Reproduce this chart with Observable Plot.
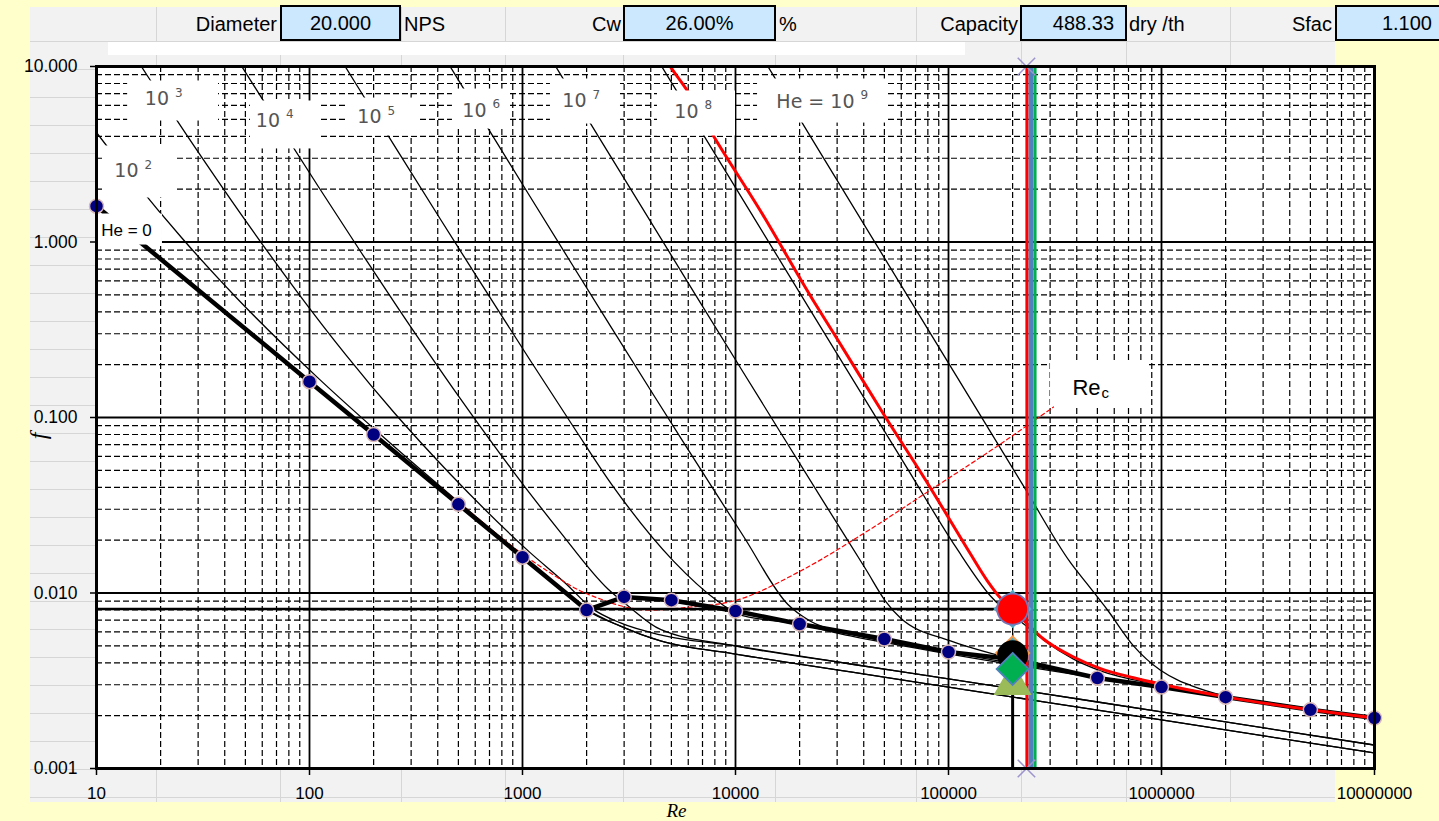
<!DOCTYPE html>
<html>
<head>
<meta charset="utf-8">
<title>Bingham plastic friction factor chart</title>
<script src="https://cdn.jsdelivr.net/npm/d3@7"></script>
<script src="https://cdn.jsdelivr.net/npm/@observablehq/plot@0.6"></script>
<style>
html,body{margin:0;padding:0;background:#FFFFCC;}
#wrap{position:relative;width:1439px;height:821px;overflow:hidden;font-family:"Liberation Sans",Arial,sans-serif;}
#sheet{position:absolute;left:30px;top:7px;width:1305px;height:795px;background:#F2F2F2;}
.hl{position:absolute;left:30px;width:1305px;height:1px;background:#D6D6D6;}
.vl{position:absolute;top:7px;height:795px;width:1px;background:#D6D6D6;}
.lbl{position:absolute;top:7px;height:34px;line-height:34px;font-size:20px;color:#000;white-space:nowrap;box-sizing:border-box;}
.box{position:absolute;top:5px;height:36px;line-height:33px;font-size:20px;color:#000;border:2px solid #000;background:#CBE8FF;box-sizing:border-box;white-space:nowrap;}
#whitebar{position:absolute;left:108px;top:42px;width:857px;height:13px;background:#fff;}
#chart{position:absolute;left:0;top:0;}
</style>
</head>
<body>
<div id="wrap">
  <div id="sheet"></div>
  <div id="grid"></div>
  <div class="lbl" style="left:156px;width:121px;text-align:right">Diameter</div>
  <div class="box" style="left:280px;width:121px;text-align:center">20.000</div>
  <div class="lbl" style="left:404px">NPS</div>
  <div class="lbl" style="left:505px;width:116px;text-align:right">Cw</div>
  <div class="box" style="left:623px;width:153px;text-align:center">26.00%</div>
  <div class="lbl" style="left:779px">%</div>
  <div class="lbl" style="left:916px;width:102px;text-align:right">Capacity</div>
  <div class="box" style="left:1020px;width:107px;text-align:right;padding-right:11px">488.33</div>
  <div class="lbl" style="left:1129px">dry /th</div>
  <div class="lbl" style="left:1230px;width:102px;text-align:right">Sfac</div>
  <div class="box" style="left:1335px;width:110px;text-align:right;padding-right:11px">1.100</div>
  <div id="whitebar"></div>
  <div id="chart"></div>
</div>
<script>
// ---------------- data ----------------
const majorRe = [10, 100, 1000, 10000, 100000, 1000000, 10000000];
const majorF = [0.001, 0.01, 0.1, 1, 10];
const minorMult = [2, 3, 4, 5, 6, 7, 8, 9];

// operating (thick) line with dots
const sysRe = [10, 100, 200, 500, 1000, 2000, 3000, 5000, 10000, 20000, 50000, 100000, 200000, 500000, 1000000, 2000000, 5000000, 10000000];
const sysF = [1.6, 0.16, 0.08, 0.032, 0.016, 0.008, 0.0095, 0.0091, 0.0079, 0.00666, 0.00547, 0.00461, 0.0042, 0.00328, 0.00291, 0.00255, 0.00216, 0.00194];

// Hedstrom-number curves [Re, f]
const he0 = [[10,1.6],[100,0.16],[1000,0.016],[1600,0.01],[2000,0.008],[2884,0.00648],[4446,0.00533],[10000,0.00449],[34670,0.00355],[100000,0.00291],[1000000,0.00189],[10000000,0.001226]];
const he1e2 = [[8.854,5.102],[14.85,2.267],[25.11,1.057],[45.87,0.4753],[108.3,0.1704],[233.3,0.07347],[608.3,0.02702],[1233,0.01315],[1600,0.0101],[1970,0.0082],[2884,0.00648],[4446,0.00533],[10000,0.00449],[34670,0.00355],[100000,0.00291],[1000000,0.00189],[10000000,0.001226]];
const he1e3 = [[10.92,20.98],[17.58,8.63],[26.2,4.164],[50.67,1.2985],[88.54,0.5102],[148.5,0.2267],[251.1,0.1057],[458.7,0.04753],[1083,0.01704],[1600,0.0113],[2111,0.0082],[2884,0.00675],[4446,0.00577],[10000,0.00499],[34670,0.00394],[100000,0.00324],[1000000,0.0021],[10000000,0.00136]];
const he1e4 = [[41.04,13.57],[59.81,6.578],[109.2,2.098],[175.8,0.863],[262,0.4164],[506.7,0.12985],[885.4,0.05102],[1485,0.02267],[2511,0.01057],[3112,0.0085],[4446,0.0062],[10000,0.00499],[34670,0.00394],[100000,0.00324],[1000000,0.0021],[10000000,0.00136]];
const he1e5 = [[108.1,18.29],[164.8,8.002],[259.7,3.294],[410.4,1.357],[598.1,0.6578],[1092,0.2098],[1758,0.0863],[2620,0.04164],[5117,0.0152],[8233,0.009],[10220,0.00759],[19540,0.00666],[34670,0.00569],[100000,0.0045],[1000000,0.00288],[10000000,0.00192]];
const he1e6 = [[227.4,39.89],[636.2,5.201],[1081,1.829],[1648,0.8002],[2597,0.3294],[4104,0.1357],[5981,0.06578],[10917,0.02098],[17578,0.00863],[22490,0.0069],[34670,0.00585],[100000,0.0046],[1000000,0.0029],[10000000,0.00194]];
const he1e7 = [[1007,20.13],[2274,3.989],[6362,0.5201],[10814,0.1829],[16482,0.08002],[25970,0.03294],[41039,0.01357],[50580,0.009],[59520,0.0072],[102200,0.00533],[175400,0.00438],[500000,0.0033],[1000000,0.0029],[10000000,0.00194]];
const he1e8 = [[2508,32.11],[10070,2.013],[22740,0.3989],[63620,0.05201],[108140,0.01829],[157400,0.00962],[234900,0.0064],[279300,0.0054],[386300,0.0042],[517200,0.0036],[1000000,0.00298],[2000000,0.00255],[5000000,0.00216],[10000000,0.00194]];
const he1e9 = [[6260,51.35],[25080,3.211],[100700,0.2013],[227400,0.03989],[374000,0.0149],[449500,0.0112],[557800,0.008],[738700,0.005],[989200,0.00363],[1200000,0.00318],[1368000,0.00298],[2000000,0.00258],[5000000,0.00217],[10000000,0.00195]];

// current-He (red) curve
const redCurve = [[3480,20],[4953,9.94],[5952,7.25],[7884,4.018],[13106,1.502],[23247,0.4612],[28849,0.303],[49531,0.1047],[82331,0.03965],[102190,0.02572],[126880,0.01668],[152460,0.0117],[175440,0.00937],[197600,0.00821],[234910,0.00666],[279250,0.00547],[386320,0.00432],[517200,0.00371],[738700,0.00329],[989200,0.00303],[1998000,0.00256],[5006000,0.00216],[10000000,0.00194]];

// critical Reynolds number locus (dashed red)
const recCurve = [[267.4,0.06035],[511.7,0.03214],[1000,0.01668],[1353,0.013],[1872,0.01027],[2324,0.00924],[3045,0.00832],[3990,0.008],[6148,0.00832],[9786,0.009],[20200,0.01335],[41660,0.02256],[85030,0.03965],[175400,0.07063],[311200,0.1148]];

// operating-point references
const opRe = 200000;
const transF = 0.0081;
const vlineTopF = 0.00266;
const blackCircleF = 0.0044;

// vertical Re_c lines
const recLineRe = [233600, 243900, 254700];
const recLineColor = ["#FF0000", "#4F81BD", "#00B050"];
const recLineWidth = [3.2, 4.6, 3.2];

// markers at operating point (drawn in this order)
const markerF = [0.0081, 0.0081, 0.00303, 0.00455, 0.0044, 0.00369];
const markerSymbol = ["diamond2", "circle", "triangle", "diamond2", "circle", "diamond2"];
const markerR = [16.2, 15.5, 13, 15, 14.5, 14.4];
const markerFill = ["#4BACC6", "#FF0000", "#9BBB59", "#4BACC6", "#000000", "#00B050"];
const markerStroke = ["#4BACC6", "#7474B8", "#9BBB59", "#F79646", "#000000", "#4F81BD"];

const crossRe = [232300, 232300];
const crossF = [0.001, 10];

// label boxes
const boxRe1 = [11.02, 10, 14.0, 52.8, 150.8, 469, 1353, 4303, 12690, 301300];
const boxRe2 = [24.0, 20.4, 37.4, 112.6, 331.9, 860, 2884, 10000, 52270, 859400];
const boxF1 = [1.781, 0.961, 4.89, 3.39, 4.02, 4.40, 4.70, 4.02, 4.76, 0.1163];
const boxF2 = [3.524, 1.444, 8.27, 6.36, 6.61, 7.44, 8.49, 7.25, 8.49, 0.210];

// He labels
const heLabelBase = ["10", "10", "10", "10", "10", "10", "10", "He = 10"];
const heLabelExp = ["2", "3", "4", "5", "6", "7", "8", "9"];
const heLabelRe = [16.27, 22.62, 75.1, 225, 700, 2064, 6925, 37390];
const heLabelF = [2.539, 6.53, 4.923, 5.157, 5.615, 6.36, 5.541, 6.319];

const he0Label = {text: "He = 0", Re: 13.83, f: 1.163};
const recLabel = {Re: 517200, f: 0.1473};
const titleRe = {text: "Re", Re: 5284, f: 0.001};
const titleF = {text: "f", Re: 10, f: 0.0785};

// ---------------- sheet backdrop ----------------
const gridDiv = document.getElementById("grid");
const sheetCols = [156, 280, 401, 505, 623, 775, 916, 1021, 1126, 1230];
for (let y = 41; y <= 797; y += 28) {
  const d = document.createElement("div"); d.className = "hl"; d.style.top = y + "px"; gridDiv.appendChild(d);
}
for (const x of sheetCols) {
  const d = document.createElement("div"); d.className = "vl"; d.style.left = x + "px"; gridDiv.appendChild(d);
}

// ---------------- chart ----------------
const minorRe = majorRe.slice(0, -1).flatMap(d => minorMult.map(k => k * d));
const minorF = majorF.slice(0, -1).flatMap(d => minorMult.map(k => +(k * d).toPrecision(3)));
const sysData = sysRe.map((Re, i) => ({Re, f: sysF[i]}));
const heCurves = [he1e2, he1e3, he1e4, he1e5, he1e6, he1e7, he1e8, he1e9];
const boxes = boxRe1.map((r, i) => ({r1: r, r2: boxRe2[i], f1: boxF1[i], f2: boxF2[i]}));
const heLabels = heLabelBase.map((b, i) => ({base: b, exp: heLabelExp[i], Re: heLabelRe[i], f: heLabelF[i]}));
const crosses = crossRe.map((Re, i) => ({Re, f: crossF[i]}));
const recLines = recLineRe.map((Re, i) => ({Re, color: recLineColor[i], w: recLineWidth[i]}));

const markerMarks = markerF.map((f, i) => Plot.dot([{Re: opRe, f}], {
  x: "Re", y: "f", symbol: markerSymbol[i], r: markerR[i],
  fill: markerFill[i], stroke: markerStroke[i], strokeWidth: 1.8
}));
const recLineMarks = recLines.map(d => Plot.ruleX([d.Re], {stroke: d.color, strokeWidth: d.w}));

const X = d => d[0], Y = d => d[1];
const thin = {x: X, y: Y, curve: "monotone-x", clip: true, stroke: "#000", strokeWidth: 1.3};
const tickFont = "Liberation Sans";

const chart = Plot.plot({
  width: 1439,
  height: 821,
  marginLeft: 96,
  marginRight: 65,
  marginTop: 66,
  marginBottom: 53,
  x: {type: "log", domain: [10, 1e7]},
  y: {type: "log", domain: [0.001, 10]},
  style: {background: "transparent", fontFamily: tickFont, fontSize: "17px", color: "#000", overflow: "visible"},
  marks: [
    Plot.frame({fill: "white", stroke: "none"}),
    Plot.ruleX(minorRe, {stroke: "#000", strokeWidth: 1.2, strokeDasharray: "6,3"}),
    Plot.ruleY(minorF, {stroke: "#000", strokeWidth: 1.2, strokeDasharray: "6,3"}),
    Plot.ruleX(majorRe, {stroke: "#000", strokeWidth: 1.8}),
    Plot.ruleY(majorF, {stroke: "#000", strokeWidth: 1.8}),
    Plot.line(he0, thin),
    ...heCurves.map(c => Plot.line(c, thin)),
    Plot.line(recCurve, {x: X, y: Y, curve: "monotone-x", stroke: "#FF0000", strokeWidth: 1.2, strokeDasharray: "4,3"}),
    Plot.ruleY([transF], {x1: 10, x2: opRe, stroke: "#000", strokeWidth: 2.6}),
    Plot.ruleX([opRe], {y1: 0.001, y2: vlineTopF, stroke: "#000", strokeWidth: 3}),
    Plot.ruleX([opRe], {y1: blackCircleF, y2: transF, stroke: "#000", strokeWidth: 1.3}),
    Plot.line(sysData, {x: "Re", y: "f", stroke: "#000", strokeWidth: 4.5, strokeLinejoin: "round"}),
    Plot.line(redCurve, {x: X, y: Y, curve: "monotone-x", clip: true, stroke: "#FF0000", strokeWidth: 3}),
    Plot.rect(boxes, {x1: "r1", x2: "r2", y1: "f1", y2: "f2", fill: "white"}),
    Plot.text(heLabels, {x: "Re", y: "f", text: "base", textAnchor: "end", dx: -3, fill: "#555", fontSize: 19, fontFamily: "DejaVu Sans", lineAnchor: "middle"}),
    Plot.text(heLabels, {x: "Re", y: "f", text: "exp", textAnchor: "start", dx: 3, dy: -6, fill: "#555", fontSize: 12, fontFamily: "DejaVu Sans", lineAnchor: "middle"}),
    Plot.text([he0Label], {x: "Re", y: "f", text: "text", fill: "#000", fontSize: 17, fontFamily: "Liberation Sans", lineAnchor: "middle"}),
    Plot.text([recLabel], {x: "Re", y: "f", text: () => "Re", textAnchor: "end", fill: "#000", fontSize: 22, fontFamily: "Liberation Sans", lineAnchor: "middle"}),
    Plot.text([recLabel], {x: "Re", y: "f", text: () => "c", textAnchor: "start", dx: 1, dy: 5, fill: "#000", fontSize: 15, fontFamily: "Liberation Sans", lineAnchor: "middle"}),
    ...recLineMarks,
    Plot.dot(sysData, {x: "Re", y: "f", r: 7, fill: "#000080", stroke: "#D9B8B8", strokeWidth: 1.5}),
    ...markerMarks,
    Plot.dot(crosses, {x: "Re", y: "f", symbol: "times", r: 8, stroke: "#9C94CC", strokeWidth: 1.5}),
    Plot.frame({stroke: "#000", strokeWidth: 3}),
    Plot.axisY({ticks: majorF, tickFormat: d3.format(".3f"), tickSize: 6, tickPadding: 13, fontSize: 17.5, fontFamily: tickFont, label: null, strokeWidth: 1.5}),
    Plot.axisX({ticks: majorRe, tickFormat: d3.format("d"), tickSize: 7, tickPadding: 11, fontSize: 17, fontFamily: tickFont, label: null, strokeWidth: 1.5}),
    Plot.text([titleRe], {x: "Re", y: "f", text: "text", dy: 42, fontFamily: "Liberation Serif", fontStyle: "italic", fontSize: 19, lineAnchor: "middle", fill: "#000"}),
    Plot.text([titleF], {x: "Re", y: "f", text: "text", dx: -58, rotate: -90, fontFamily: "Liberation Serif", fontStyle: "italic", fontSize: 24, lineAnchor: "middle", fill: "#000"})
  ]
});
document.getElementById("chart").appendChild(chart);
</script>
</body>
</html>
